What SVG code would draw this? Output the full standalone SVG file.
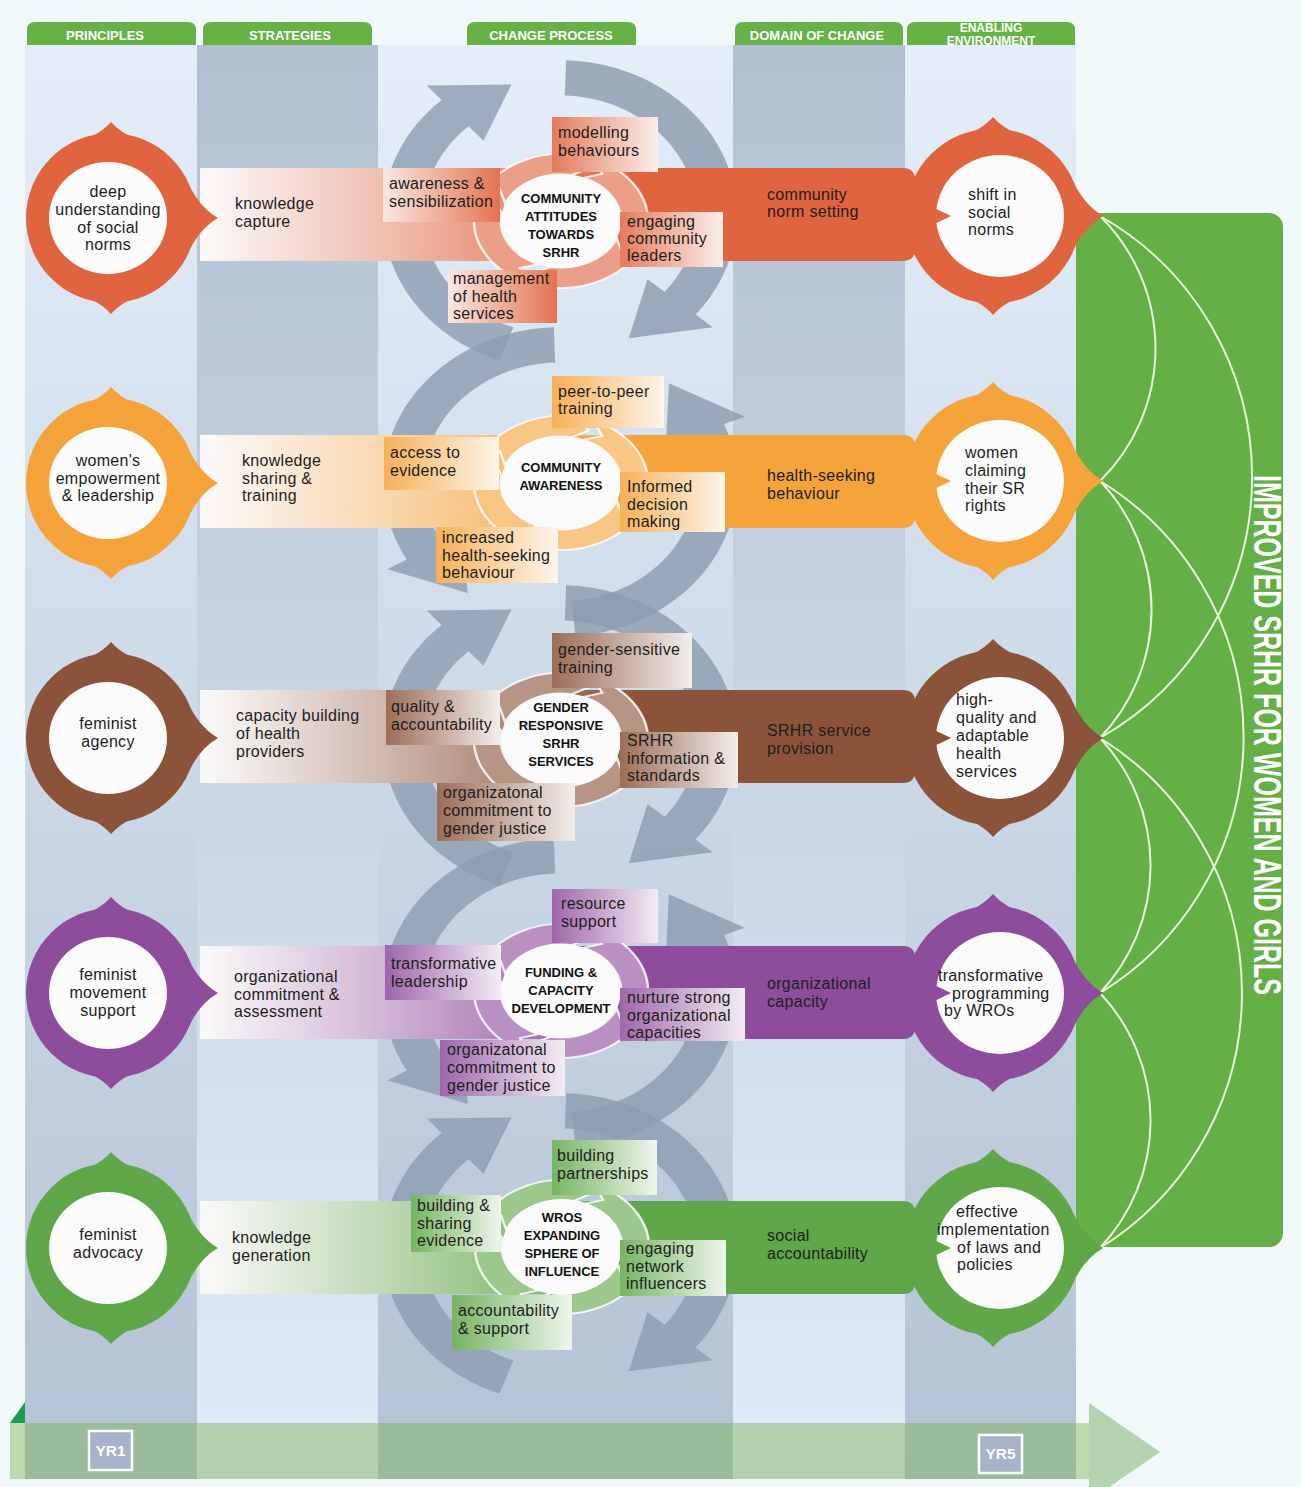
<svg xmlns="http://www.w3.org/2000/svg" width="1301" height="1487" viewBox="0 0 1301 1487">
<defs>
<style>
text{font-family:"Liberation Sans",Arial,sans-serif}
.t{font-size:16px;fill:#1d1d1d;letter-spacing:.3px}
.m{text-anchor:middle}
.b{font-size:13px;font-weight:bold;fill:#111;text-anchor:middle}
.h{font-size:13px;font-weight:bold;fill:#fff;text-anchor:middle}
.tab{fill:#66b247}
.arc{fill:none;stroke:#e9f7da;stroke-width:2}
.grey{fill:#8d9eb1;opacity:.82}
.wh{fill:#fbfbfb}
.fr{fill:url(#fadeR)}
.fl{fill:url(#fadeL)}
.bf{fill:url(#bandFade)}
.pl{fill:#fff;fill-opacity:.38;stroke:#fff;stroke-width:2.2;stroke-opacity:.85}
</style>
<linearGradient id="colA" x1="0" y1="0" x2="0" y2="1"><stop offset="0" stop-color="#e4effa"/><stop offset="1" stop-color="#b3c2d4"/></linearGradient>
<linearGradient id="colB" x1="0" y1="0" x2="0" y2="1"><stop offset="0" stop-color="#b2c1d2"/><stop offset="1" stop-color="#dfecf8"/></linearGradient>
<linearGradient id="bandFade" gradientUnits="userSpaceOnUse" x1="205" y1="0" x2="640" y2="0"><stop offset="0" stop-color="#fbf9f9" stop-opacity="1"/><stop offset=".4" stop-color="#fbf9f9" stop-opacity=".62"/><stop offset="1" stop-color="#fbf9f9" stop-opacity="0"/></linearGradient>
<linearGradient id="fadeR" x1="0" y1="0" x2="1" y2="0"><stop offset="0" stop-color="#fff" stop-opacity=".15"/><stop offset="1" stop-color="#fff" stop-opacity=".9"/></linearGradient>
<linearGradient id="fadeL" x1="0" y1="0" x2="1" y2="0"><stop offset="0" stop-color="#fff" stop-opacity=".85"/><stop offset="1" stop-color="#fff" stop-opacity=".1"/></linearGradient>
<g id="node"><circle r="85"/><path d="M-49.3 -69.5Q-14 -80 0 -96Q14 -80 49.3 -69.5Z M74 -42Q86 -12 107 0Q86 12 74 42Z M-49.3 69.5Q-14 80 0 96Q14 80 49.3 69.5Z"/></g>
<path id="seg" d="M77.95 2.72A78 78 0 0 1 13.54 76.81L-2.3 65.96L9.37 53.18A54 54 0 0 0 53.97 1.88L64.04 15.97Z"/>
<g id="pin"><use href="#seg"/><use href="#seg" transform="rotate(90)"/><use href="#seg" transform="rotate(180)"/><use href="#seg" transform="rotate(270)"/></g>
<g id="cycA"><path d="M-54.04 148.47A158 158 0 0 1 -105.72 -117.41L-119.1 -132.27L-43.26 -133.15L-68.25 -75.8L-81.63 -90.66A122 122 0 0 0 -41.72 114.64Z"/><path d="M5.51 -157.9A158 158 0 0 1 121.03 101.56L136.35 114.42L61.37 125.83L78.13 65.57L93.45 78.42A122 122 0 0 0 4.26 -121.93Z"/></g>
<g id="cycB"><path d="M13.77 157.4A158 158 0 0 0 146.49 -59.19L165.04 -66.68L97.26 -100.7L94.57 -38.21L113.12 -45.7A122 122 0 0 1 10.63 121.54Z"/><path d="M-5.51 -157.9A158 158 0 0 0 -136.83 79L-154.15 89L-82.29 113.26L-88.33 51L-105.65 61A122 122 0 0 1 -4.26 -121.93Z"/></g>
</defs>

<rect width="1301" height="1487" fill="#f1f9fb"/>

<g id="columns">
<rect x="25" y="45" width="172" height="1434" fill="url(#colA)"/>
<rect x="197" y="45" width="181" height="1434" fill="url(#colB)"/>
<rect x="378" y="45" width="355" height="1434" fill="url(#colA)"/>
<rect x="733" y="45" width="172" height="1434" fill="url(#colB)"/>
<rect x="905" y="45" width="171" height="1434" fill="url(#colA)"/>
</g>

<g id="headers">
<path class="tab" d="M27 45V30Q27 22 35 22H188Q196 22 196 30V45Z"/>
<path class="tab" d="M203 45V30Q203 22 211 22H364Q372 22 372 30V45Z"/>
<path class="tab" d="M467 45V30Q467 22 475 22H628Q636 22 636 30V45Z"/>
<path class="tab" d="M735 45V30Q735 22 743 22H895Q903 22 903 30V45Z"/>
<path class="tab" d="M907 45V30Q907 22 915 22H1067Q1075 22 1075 30V45Z"/>
<text class="h" x="105" y="40">PRINCIPLES</text>
<text class="h" x="290" y="40">STRATEGIES</text>
<text class="h" x="551" y="40">CHANGE PROCESS</text>
<text class="h" x="817" y="40">DOMAIN OF CHANGE</text>
<text class="h" x="991" y="32" style="font-size:12px">ENABLING</text>
<text class="h" x="991" y="45" style="font-size:12px">ENVIRONMENT</text>
</g>

<g id="outcome-panel">
<rect x="1076" y="213" width="207" height="1034" rx="14" fill="#64b046"/>
<text transform="translate(1254,735) rotate(90)" text-anchor="middle" font-size="38" font-weight="bold" fill="#fff" textLength="520" lengthAdjust="spacingAndGlyphs">IMPROVED SRHR FOR WOMEN AND GIRLS</text>
</g>

<g id="cycles">
<use href="#cycA" class="grey" transform="translate(560,215) scale(1.12,0.98)"/>
<use href="#cycB" class="grey" transform="translate(560,482) scale(1.12,0.98)"/>
<use href="#cycA" class="grey" transform="translate(560,740) scale(1.12,0.98)"/>
<use href="#cycB" class="grey" transform="translate(560,993) scale(1.12,0.98)"/>
<use href="#cycA" class="grey" transform="translate(560,1248) scale(1.12,0.98)"/>
</g>

<g id="connectors">
<path d="M200 168H903Q915 168 915 180V249Q915 261 903 261H200Z" fill="#e0643f"/>
<path d="M200 168H903Q915 168 915 180V249Q915 261 903 261H200Z" class="bf"/>
<path d="M200 435H903Q915 435 915 447V516Q915 528 903 528H200Z" fill="#f5a33b"/>
<path d="M200 435H903Q915 435 915 447V516Q915 528 903 528H200Z" class="bf"/>
<path d="M200 690H903Q915 690 915 702V771Q915 783 903 783H200Z" fill="#8b543a"/>
<path d="M200 690H903Q915 690 915 702V771Q915 783 903 783H200Z" class="bf"/>
<path d="M200 946H903Q915 946 915 958V1027Q915 1039 903 1039H200Z" fill="#8e4c9c"/>
<path d="M200 946H903Q915 946 915 958V1027Q915 1039 903 1039H200Z" class="bf"/>
<path d="M200 1201H903Q915 1201 915 1213V1282Q915 1294 903 1294H200Z" fill="#5fa748"/>
<path d="M200 1201H903Q915 1201 915 1213V1282Q915 1294 903 1294H200Z" class="bf"/>
<path class="arc" d="M1100 216A186 186 0 0 1 1100 481"/>
<path class="arc" d="M1100 481A186 186 0 0 1 1100 738"/>
<path class="arc" d="M1100 738A186 186 0 0 1 1100 993"/>
<path class="arc" d="M1100 993A186 186 0 0 1 1100 1248"/>
<path class="arc" d="M1100 216A300 300 0 0 1 1100 738"/>
<path class="arc" d="M1100 481A300 300 0 0 1 1100 993"/>
<path class="arc" d="M1100 738A300 300 0 0 1 1100 1248"/>
</g>

<g id="timeline">
<rect x="10" y="1423" width="1079" height="56" fill="#7db455" opacity=".45"/>
<polygon points="1089,1403 1160,1452 1089,1501" fill="#b3d4ae"/>
<polygon points="10,1423 25,1402 25,1423" fill="#1c9a50"/>
<rect x="89" y="1431" width="43" height="39" fill="#a7b3c8" stroke="#fff" stroke-width="2.5"/>
<text x="110.5" y="1456" font-size="14" font-weight="bold" fill="#fff" text-anchor="middle" textLength="30" lengthAdjust="spacingAndGlyphs">YR1</text>
<rect x="979" y="1435" width="43" height="38" fill="#a7b3c8" stroke="#fff" stroke-width="2.5"/>
<text x="1000.5" y="1459" font-size="14" font-weight="bold" fill="#fff" text-anchor="middle" textLength="30" lengthAdjust="spacingAndGlyphs">YR5</text>
</g>

<!-- ROW 1 -->
<g id="row1-principle">
<use href="#node" fill="#e0643f" transform="translate(111,218)"/>
<ellipse class="wh" cx="108" cy="218" rx="59" ry="56"/>
<text class="t m" x="108" y="197">deep</text>
<text class="t m" x="108" y="215">understanding</text>
<text class="t m" x="108" y="233">of social</text>
<text class="t m" x="108" y="250">norms</text>
</g>
<g id="row1-strategy"><text class="t" x="235" y="209">knowledge</text><text class="t" x="235" y="227">capture</text></g>
<g id="row1-process">
<use href="#pin" fill="#e0643f" transform="translate(561,221) scale(1.115,0.86) rotate(20)"/>
<use href="#pin" class="pl" transform="translate(561,221) scale(1.115,0.86) rotate(20)"/>
<ellipse class="wh" cx="561" cy="221" rx="60" ry="47"/>
<text class="b" x="561" y="203">COMMUNITY</text>
<text class="b" x="561" y="221">ATTITUDES</text>
<text class="b" x="561" y="239">TOWARDS</text>
<text class="b" x="561" y="257">SRHR</text>
</g>
<g id="row1-modelling"><rect x="552" y="117" width="106" height="55" fill="#e0643f"/><rect x="552" y="117" width="106" height="55" class="fr"/><text class="t" x="558" y="138">modelling</text><text class="t" x="558" y="156">behaviours</text></g>
<g id="row1-awareness"><rect x="383" y="168" width="117" height="54" fill="#e0643f"/><rect x="383" y="168" width="117" height="54" class="fl"/><text class="t" x="389" y="189">awareness &amp;</text><text class="t" x="389" y="207">sensibilization</text></g>
<g id="row1-engaging"><rect x="620" y="212" width="103" height="55" fill="#e0643f"/><rect x="620" y="212" width="103" height="55" class="fr"/><text class="t" x="627" y="227">engaging</text><text class="t" x="627" y="244">community</text><text class="t" x="627" y="261">leaders</text></g>
<g id="row1-management"><rect x="448" y="270" width="109" height="53" fill="#e0643f"/><rect x="448" y="270" width="109" height="53" class="fl"/><text class="t" x="453" y="284">management</text><text class="t" x="453" y="302">of health</text><text class="t" x="453" y="319">services</text></g>
<g id="row1-domain"><text class="t" x="767" y="200">community</text><text class="t" x="767" y="217">norm setting</text></g>
<g id="row1-enabling">
<use href="#node" fill="#e0643f" transform="translate(993,216) scale(1.03)"/>
<ellipse class="wh" cx="1000" cy="216" rx="64" ry="61"/>
<polygon points="926,204 926,228 951,216" fill="#e0643f"/>
<text class="t" x="968" y="200">shift in</text><text class="t" x="968" y="218">social</text><text class="t" x="968" y="235">norms</text>
</g>

<!-- ROW 2 -->
<g id="row2-principle">
<use href="#node" fill="#f5a33b" transform="translate(111,483)"/>
<ellipse class="wh" cx="108" cy="483" rx="59" ry="56"/>
<text class="t m" x="108" y="466">women's</text>
<text class="t m" x="108" y="484">empowerment</text>
<text class="t m" x="108" y="501">&amp; leadership</text>
</g>
<g id="row2-strategy"><text class="t" x="242" y="466">knowledge</text><text class="t" x="242" y="484">sharing &amp;</text><text class="t" x="242" y="501">training</text></g>
<g id="row2-process">
<use href="#pin" fill="#f5a33b" transform="translate(561,483) scale(1.115,0.86) rotate(20)"/>
<use href="#pin" class="pl" transform="translate(561,483) scale(1.115,0.86) rotate(20)"/>
<ellipse class="wh" cx="561" cy="483" rx="60" ry="47"/>
<text class="b" x="561" y="472">COMMUNITY</text>
<text class="b" x="561" y="490">AWARENESS</text>
</g>
<g id="row2-peer"><rect x="552" y="376" width="112" height="52" fill="#f5a33b"/><rect x="552" y="376" width="112" height="52" class="fr"/><text class="t" x="558" y="397">peer-to-peer</text><text class="t" x="558" y="414">training</text></g>
<g id="row2-access"><rect x="384" y="437" width="115" height="53" fill="#f5a33b"/><rect x="384" y="437" width="115" height="53" class="fr"/><text class="t" x="390" y="458">access to</text><text class="t" x="390" y="476">evidence</text></g>
<g id="row2-informed"><rect x="620" y="472" width="105" height="60" fill="#f5a33b"/><rect x="620" y="472" width="105" height="60" class="fr"/><text class="t" x="627" y="492">Informed</text><text class="t" x="627" y="510">decision</text><text class="t" x="627" y="527">making</text></g>
<g id="row2-increased"><rect x="436" y="527" width="122" height="56" fill="#f5a33b"/><rect x="436" y="527" width="122" height="56" class="fr"/><text class="t" x="442" y="543">increased</text><text class="t" x="442" y="561">health-seeking</text><text class="t" x="442" y="578">behaviour</text></g>
<g id="row2-domain"><text class="t" x="767" y="481">health-seeking</text><text class="t" x="767" y="499">behaviour</text></g>
<g id="row2-enabling">
<use href="#node" fill="#f5a33b" transform="translate(993,481) scale(1.03)"/>
<ellipse class="wh" cx="1000" cy="481" rx="64" ry="61"/>
<polygon points="926,469 926,493 951,481" fill="#f5a33b"/>
<text class="t" x="965" y="458">women</text><text class="t" x="965" y="476">claiming</text><text class="t" x="965" y="494">their SR</text><text class="t" x="965" y="511">rights</text>
</g>

<!-- ROW 3 -->
<g id="row3-principle">
<use href="#node" fill="#8b543a" transform="translate(111,738)"/>
<ellipse class="wh" cx="108" cy="738" rx="59" ry="56"/>
<text class="t m" x="108" y="729">feminist</text>
<text class="t m" x="108" y="747">agency</text>
</g>
<g id="row3-strategy"><text class="t" x="236" y="721">capacity building</text><text class="t" x="236" y="739">of health</text><text class="t" x="236" y="757">providers</text></g>
<g id="row3-process">
<use href="#pin" fill="#8b543a" transform="translate(561,740) scale(1.115,0.86) rotate(20)"/>
<use href="#pin" class="pl" transform="translate(561,740) scale(1.115,0.86) rotate(20)"/>
<ellipse class="wh" cx="561" cy="740" rx="60" ry="47"/>
<text class="b" x="561" y="712">GENDER</text>
<text class="b" x="561" y="730">RESPONSIVE</text>
<text class="b" x="561" y="748">SRHR</text>
<text class="b" x="561" y="766">SERVICES</text>
</g>
<g id="row3-gender"><rect x="552" y="633" width="140" height="55" fill="#8b543a"/><rect x="552" y="633" width="140" height="55" class="fr"/><text class="t" x="558" y="655">gender-sensitive</text><text class="t" x="558" y="673">training</text></g>
<g id="row3-quality"><rect x="386" y="690" width="114" height="55" fill="#8b543a"/><rect x="386" y="690" width="114" height="55" class="fr"/><text class="t" x="391" y="712">quality &amp;</text><text class="t" x="391" y="730">accountability</text></g>
<g id="row3-srhr"><rect x="620" y="732" width="118" height="56" fill="#8b543a"/><rect x="620" y="732" width="118" height="56" class="fr"/><text class="t" x="627" y="746">SRHR</text><text class="t" x="627" y="764">information &amp;</text><text class="t" x="627" y="781">standards</text></g>
<g id="row3-commitment"><rect x="437" y="783" width="138" height="58" fill="#8b543a"/><rect x="437" y="783" width="138" height="58" class="fr"/><text class="t" x="443" y="798">organizatonal</text><text class="t" x="443" y="816">commitment to</text><text class="t" x="443" y="834">gender justice</text></g>
<g id="row3-domain"><text class="t" x="767" y="736">SRHR service</text><text class="t" x="767" y="754">provision</text></g>
<g id="row3-enabling">
<use href="#node" fill="#8b543a" transform="translate(993,738) scale(1.03)"/>
<ellipse class="wh" cx="1000" cy="738" rx="64" ry="61"/>
<polygon points="926,726 926,750 951,738" fill="#8b543a"/>
<text class="t" x="956" y="705">high-</text><text class="t" x="956" y="723">quality and</text><text class="t" x="956" y="741">adaptable</text><text class="t" x="956" y="759">health</text><text class="t" x="956" y="777">services</text>
</g>

<!-- ROW 4 -->
<g id="row4-principle">
<use href="#node" fill="#8e4c9c" transform="translate(111,993)"/>
<ellipse class="wh" cx="108" cy="993" rx="59" ry="56"/>
<text class="t m" x="108" y="980">feminist</text>
<text class="t m" x="108" y="998">movement</text>
<text class="t m" x="108" y="1016">support</text>
</g>
<g id="row4-strategy"><text class="t" x="234" y="982">organizational</text><text class="t" x="234" y="1000">commitment &amp;</text><text class="t" x="234" y="1017">assessment</text></g>
<g id="row4-process">
<use href="#pin" fill="#8e4c9c" transform="translate(561,991) scale(1.115,0.86) rotate(20)"/>
<use href="#pin" class="pl" transform="translate(561,991) scale(1.115,0.86) rotate(20)"/>
<ellipse class="wh" cx="561" cy="991" rx="60" ry="47"/>
<text class="b" x="561" y="977">FUNDING &amp;</text>
<text class="b" x="561" y="995">CAPACITY</text>
<text class="b" x="561" y="1013">DEVELOPMENT</text>
</g>
<g id="row4-resource"><rect x="552" y="889" width="106" height="54" fill="#8e4c9c"/><rect x="552" y="889" width="106" height="54" class="fr"/><text class="t" x="561" y="909">resource</text><text class="t" x="561" y="927">support</text></g>
<g id="row4-leadership"><rect x="385" y="945" width="116" height="55" fill="#8e4c9c"/><rect x="385" y="945" width="116" height="55" class="fr"/><text class="t" x="391" y="969">transformative</text><text class="t" x="391" y="987">leadership</text></g>
<g id="row4-nurture"><rect x="620" y="988" width="125" height="53" fill="#8e4c9c"/><rect x="620" y="988" width="125" height="53" class="fr"/><text class="t" x="627" y="1003">nurture strong</text><text class="t" x="627" y="1021">organizational</text><text class="t" x="627" y="1038">capacities</text></g>
<g id="row4-commitment"><rect x="440" y="1040" width="125" height="56" fill="#8e4c9c"/><rect x="440" y="1040" width="125" height="56" class="fr"/><text class="t" x="447" y="1055">organizatonal</text><text class="t" x="447" y="1073">commitment to</text><text class="t" x="447" y="1091">gender justice</text></g>
<g id="row4-domain"><text class="t" x="767" y="989">organizational</text><text class="t" x="767" y="1007">capacity</text></g>
<g id="row4-enabling">
<use href="#node" fill="#8e4c9c" transform="translate(993,993) scale(1.03)"/>
<ellipse class="wh" cx="1000" cy="993" rx="64" ry="61"/>
<polygon points="926,981 926,1005 951,993" fill="#8e4c9c"/>
<text class="t" x="938" y="981">transformative</text><text class="t" x="952" y="999">programming</text><text class="t" x="944" y="1016">by WROs</text>
</g>

<!-- ROW 5 -->
<g id="row5-principle">
<use href="#node" fill="#5fa748" transform="translate(111,1248)"/>
<ellipse class="wh" cx="108" cy="1248" rx="59" ry="56"/>
<text class="t m" x="108" y="1240">feminist</text>
<text class="t m" x="108" y="1258">advocacy</text>
</g>
<g id="row5-strategy"><text class="t" x="232" y="1243">knowledge</text><text class="t" x="232" y="1261">generation</text></g>
<g id="row5-process">
<use href="#pin" fill="#5fa748" transform="translate(562,1247) scale(1.115,0.86) rotate(20)"/>
<use href="#pin" class="pl" transform="translate(562,1247) scale(1.115,0.86) rotate(20)"/>
<ellipse class="wh" cx="562" cy="1247" rx="60" ry="48"/>
<text class="b" x="562" y="1222">WROS</text>
<text class="b" x="562" y="1240">EXPANDING</text>
<text class="b" x="562" y="1258">SPHERE OF</text>
<text class="b" x="562" y="1276">INFLUENCE</text>
</g>
<g id="row5-partnerships"><rect x="552" y="1140" width="105" height="55" fill="#5fa748"/><rect x="552" y="1140" width="105" height="55" class="fr"/><text class="t" x="557" y="1161">building</text><text class="t" x="557" y="1179">partnerships</text></g>
<g id="row5-evidence"><rect x="411" y="1195" width="90" height="57" fill="#5fa748"/><rect x="411" y="1195" width="90" height="57" class="fr"/><text class="t" x="417" y="1211">building &amp;</text><text class="t" x="417" y="1229">sharing</text><text class="t" x="417" y="1246">evidence</text></g>
<g id="row5-network"><rect x="620" y="1240" width="106" height="56" fill="#5fa748"/><rect x="620" y="1240" width="106" height="56" class="fr"/><text class="t" x="626" y="1254">engaging</text><text class="t" x="626" y="1272">network</text><text class="t" x="626" y="1289">influencers</text></g>
<g id="row5-accountability"><rect x="452" y="1295" width="120" height="55" fill="#5fa748"/><rect x="452" y="1295" width="120" height="55" class="fr"/><text class="t" x="458" y="1316">accountability</text><text class="t" x="458" y="1334">&amp; support</text></g>
<g id="row5-domain"><text class="t" x="767" y="1241">social</text><text class="t" x="767" y="1259">accountability</text></g>
<g id="row5-enabling">
<use href="#node" fill="#5fa748" transform="translate(993,1248) scale(1.03)"/>
<ellipse class="wh" cx="1000" cy="1248" rx="64" ry="61"/>
<polygon points="926,1236 926,1260 951,1248" fill="#5fa748"/>
<text class="t" x="956" y="1217">effective</text><text class="t" x="937" y="1235">implementation</text><text class="t" x="957" y="1253">of laws and</text><text class="t" x="957" y="1270">policies</text>
</g>
</svg>
